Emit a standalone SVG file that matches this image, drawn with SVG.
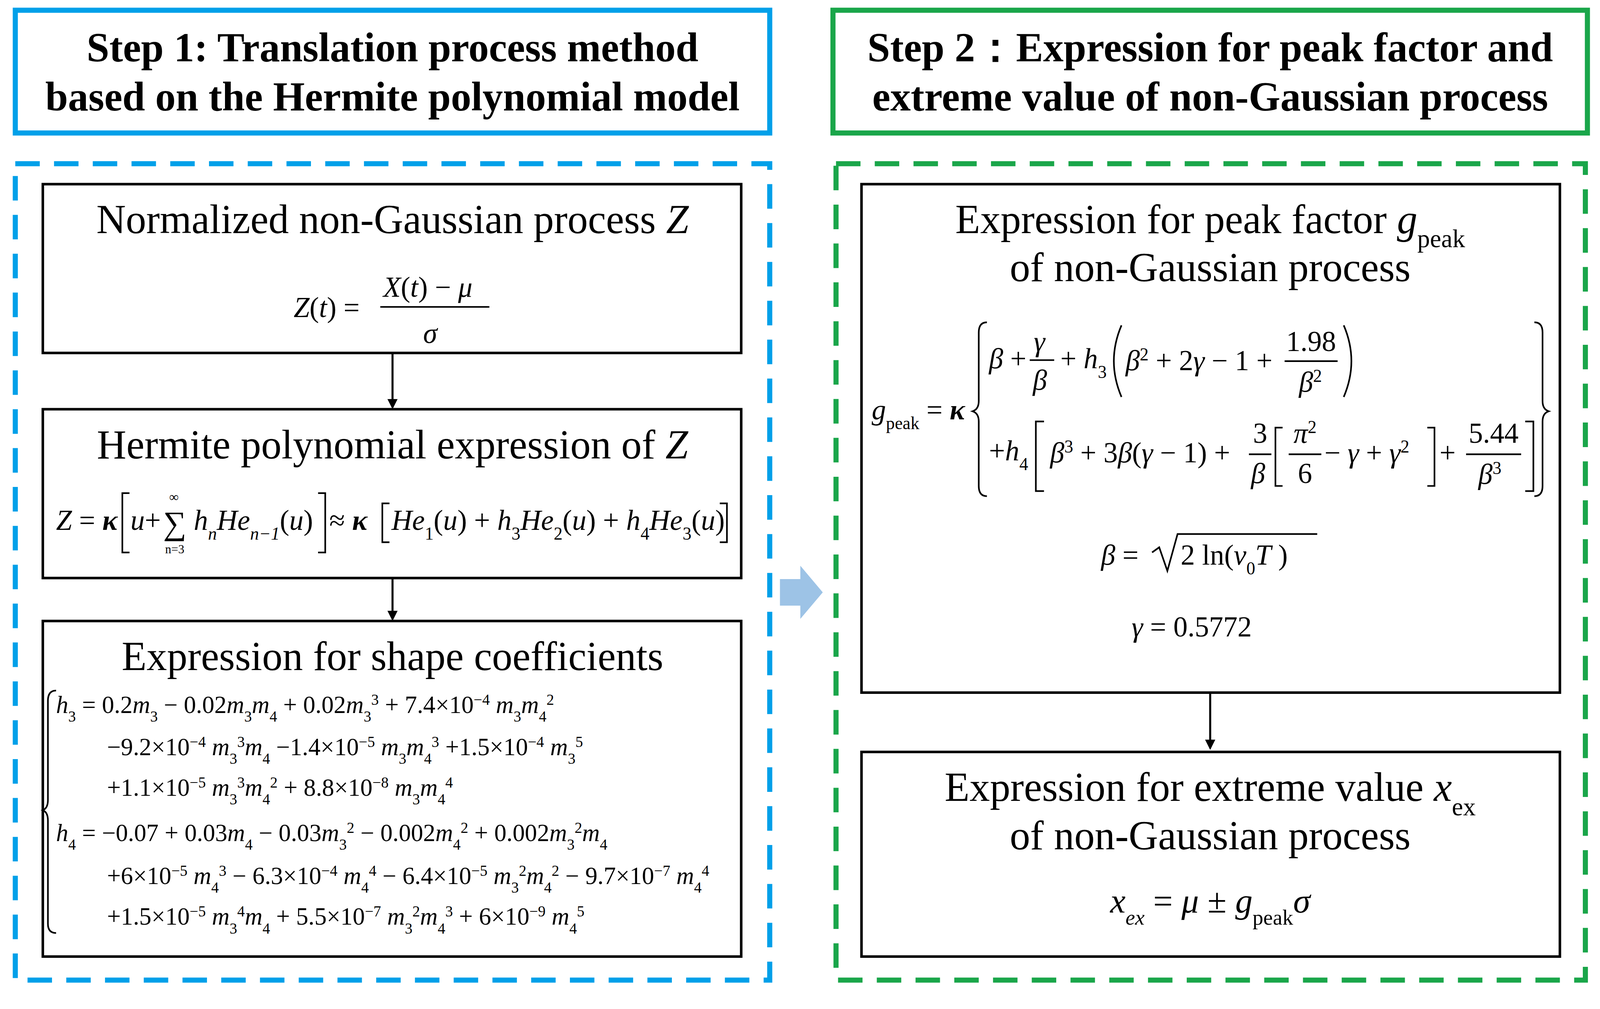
<svg xmlns="http://www.w3.org/2000/svg" width="4183" height="2584" viewBox="0 0 4183 2584">
<style>
text{font-family:"Liberation Serif","Times New Roman",serif;fill:#000}
.h{font-weight:bold;font-size:40px;text-anchor:middle}
.t{font-size:40px;text-anchor:middle}
.f{font-size:28px}
.s{font-size:24px}
.i{font-style:italic}
.b{baseline-shift:sub;font-size:62%}
.p{baseline-shift:super;font-size:62%}
.box{fill:#fff;stroke:#000;stroke-width:2.5}
.ln{fill:none;stroke:#000;stroke-width:1.6}
</style>
<defs><marker id="ah" markerWidth="10" markerHeight="10" refX="8" refY="5" orient="auto" markerUnits="userSpaceOnUse"><path d="M0,0 L10,5 L0,10 z" fill="#000"/></marker></defs>
<rect width="4183" height="2584" fill="#fff"/>
<g transform="scale(2.61,2.62)">
<g id="step1"><rect x="15" y="10" width="740" height="120" fill="#fff" stroke="#00a0e9" stroke-width="5"/>
<text class="h" x="385" y="60">Step 1: Translation process method</text>
<text class="h" x="385" y="108">based on the Hermite polynomial model</text></g>
<g id="step2"><rect x="817" y="10" width="740" height="120" fill="#fff" stroke="#1aa64a" stroke-width="5"/>
<text class="h" x="1187" y="60">Step 2：Expression for peak factor and</text>
<text class="h" x="1187" y="108">extreme value of non-Gaussian process</text></g>
<g id="group1"><rect x="15" y="160" width="740" height="798" fill="none" stroke="#00a0e9" stroke-width="5" stroke-dasharray="24,14"/></g>
<g id="group2"><rect x="820" y="160" width="735" height="798" fill="none" stroke="#1aa64a" stroke-width="5" stroke-dasharray="24,14"/></g>
<g id="bigarrow"><path d="M765,566 L785,566 L785,553 L807,579 L785,605 L785,592 L765,592 z" fill="#9dc3e6"/></g>

<g id="n1"><rect class="box" x="42" y="180" width="685" height="165"/>
<text class="t" x="385" y="228">Normalized non-Gaussian process <tspan class="i">Z</tspan></text>
<text class="f" x="288" y="310"><tspan class="i">Z</tspan>(<tspan class="i">t</tspan>) =</text>
<line class="ln" x1="373" y1="300" x2="480" y2="300"/>
<text class="f" x="376" y="290"><tspan class="i">X</tspan>(<tspan class="i">t</tspan>) − <tspan class="i">μ</tspan></text>
<text class="f i" x="415" y="335">σ</text></g>

<g id="n2"><rect class="box" x="42" y="400" width="685" height="165"/>
<text class="t" x="385" y="448">Hermite polynomial expression of <tspan class="i">Z</tspan></text>
<text class="f" x="55" y="518"><tspan class="i">Z</tspan> = <tspan font-weight="bold" class="i">κ</tspan></text>
<path class="ln" d="M127,482 L120,482 L120,540 L127,540 M312,482 L319,482 L319,540 L312,540"/>
<text class="f" x="128" y="518"><tspan class="i">u</tspan>+</text>
<text x="160" y="522" style="font-size:32px">∑</text>
<text x="166" y="490" style="font-size:13px">∞</text>
<text x="162" y="541" style="font-size:12px">n=3</text>
<text class="f" x="190" y="518"><tspan class="i">h<tspan class="b">n</tspan>He<tspan class="b">n−1</tspan></tspan>(<tspan class="i">u</tspan>)</text>
<text class="f" x="323" y="518">≈ <tspan class="i" font-weight="bold">κ</tspan></text>
<path class="ln" d="M382,492 L375,492 L375,530 L382,530 M706,492 L713,492 L713,530 L706,530"/>
<text class="f" x="384" y="518"><tspan class="i">He</tspan><tspan class="b">1</tspan>(<tspan class="i">u</tspan>) + <tspan class="i">h</tspan><tspan class="b">3</tspan><tspan class="i">He</tspan><tspan class="b">2</tspan>(<tspan class="i">u</tspan>) + <tspan class="i">h</tspan><tspan class="b">4</tspan><tspan class="i">He</tspan><tspan class="b">3</tspan>(<tspan class="i">u</tspan>)</text></g>

<g id="n3"><rect class="box" x="42" y="607" width="685" height="328"/>
<text class="t" x="385" y="655">Expression for shape coefficients</text>
<path class="ln" d="M55,675 Q47,675 47,685 L47,782 Q47,790 42,792 Q47,794 47,802 L47,903 Q47,912 55,912"/>
<text class="s" x="55" y="697"><tspan class="i">h</tspan><tspan class="b">3</tspan> = 0.2<tspan class="i">m</tspan><tspan class="b">3</tspan> − 0.02<tspan class="i">m</tspan><tspan class="b">3</tspan><tspan class="i">m</tspan><tspan class="b">4</tspan> + 0.02<tspan class="i">m</tspan><tspan class="b">3</tspan><tspan class="p">3</tspan> + 7.4×10<tspan class="p">−4</tspan> <tspan class="i">m</tspan><tspan class="b">3</tspan><tspan class="i">m</tspan><tspan class="b">4</tspan><tspan class="p">2</tspan></text>
<text class="s" x="105" y="738">−9.2×10<tspan class="p">−4</tspan> <tspan class="i">m</tspan><tspan class="b">3</tspan><tspan class="p">3</tspan><tspan class="i">m</tspan><tspan class="b">4</tspan> −1.4×10<tspan class="p">−5</tspan> <tspan class="i">m</tspan><tspan class="b">3</tspan><tspan class="i">m</tspan><tspan class="b">4</tspan><tspan class="p">3</tspan> +1.5×10<tspan class="p">−4</tspan> <tspan class="i">m</tspan><tspan class="b">3</tspan><tspan class="p">5</tspan></text>
<text class="s" x="105" y="778">+1.1×10<tspan class="p">−5</tspan> <tspan class="i">m</tspan><tspan class="b">3</tspan><tspan class="p">3</tspan><tspan class="i">m</tspan><tspan class="b">4</tspan><tspan class="p">2</tspan> + 8.8×10<tspan class="p">−8</tspan> <tspan class="i">m</tspan><tspan class="b">3</tspan><tspan class="i">m</tspan><tspan class="b">4</tspan><tspan class="p">4</tspan></text>
<text class="s" x="55" y="822"><tspan class="i">h</tspan><tspan class="b">4</tspan> = −0.07 + 0.03<tspan class="i">m</tspan><tspan class="b">4</tspan> − 0.03<tspan class="i">m</tspan><tspan class="b">3</tspan><tspan class="p">2</tspan> − 0.002<tspan class="i">m</tspan><tspan class="b">4</tspan><tspan class="p">2</tspan> + 0.002<tspan class="i">m</tspan><tspan class="b">3</tspan><tspan class="p">2</tspan><tspan class="i">m</tspan><tspan class="b">4</tspan></text>
<text class="s" x="105" y="864">+6×10<tspan class="p">−5</tspan> <tspan class="i">m</tspan><tspan class="b">4</tspan><tspan class="p">3</tspan> − 6.3×10<tspan class="p">−4</tspan> <tspan class="i">m</tspan><tspan class="b">4</tspan><tspan class="p">4</tspan> − 6.4×10<tspan class="p">−5</tspan> <tspan class="i">m</tspan><tspan class="b">3</tspan><tspan class="p">2</tspan><tspan class="i">m</tspan><tspan class="b">4</tspan><tspan class="p">2</tspan> − 9.7×10<tspan class="p">−7</tspan> <tspan class="i">m</tspan><tspan class="b">4</tspan><tspan class="p">4</tspan></text>
<text class="s" x="105" y="904">+1.5×10<tspan class="p">−5</tspan> <tspan class="i">m</tspan><tspan class="b">3</tspan><tspan class="p">4</tspan><tspan class="i">m</tspan><tspan class="b">4</tspan> + 5.5×10<tspan class="p">−7</tspan> <tspan class="i">m</tspan><tspan class="b">3</tspan><tspan class="p">2</tspan><tspan class="i">m</tspan><tspan class="b">4</tspan><tspan class="p">3</tspan> + 6×10<tspan class="p">−9</tspan> <tspan class="i">m</tspan><tspan class="b">4</tspan><tspan class="p">5</tspan></text></g>

<g id="r1"><rect class="box" x="845" y="180" width="685" height="497"/>
<text class="t" x="1187" y="228">Expression for peak factor <tspan class="i">g</tspan><tspan class="b">peak</tspan></text>
<text class="t" x="1187" y="275">of non-Gaussian process</text>
<text class="f" x="855" y="410"><tspan class="i">g</tspan><tspan class="b">peak</tspan> = <tspan class="i" font-weight="bold">κ</tspan></text>
<path class="ln" d="M968,315 Q960,315 960,325 L960,392 Q960,400 954,402 Q960,404 960,412 L960,475 Q960,485 968,485 M1505,315 Q1513,315 1513,325 L1513,392 Q1513,400 1519,402 Q1513,404 1513,412 L1513,475 Q1513,485 1505,485"/>
<text class="f" x="970" y="360"><tspan class="i">β</tspan> +</text>
<text class="f i" x="1014" y="343">γ</text><line class="ln" x1="1010" y1="352" x2="1034" y2="352"/><text class="f i" x="1013" y="381">β</text>
<text class="f" x="1040" y="360">+ <tspan class="i">h</tspan><tspan class="b">3</tspan></text>
<path class="ln" d="M1100,318 Q1085,353 1100,388 M1318,318 Q1333,353 1318,388"/>
<text class="f" x="1104" y="362"><tspan class="i">β</tspan><tspan class="p">2</tspan> + 2<tspan class="i">γ</tspan> − 1 +</text>
<text class="f" x="1286" y="343" text-anchor="middle">1.98</text><line class="ln" x1="1260" y1="353" x2="1312" y2="353"/><text class="f" x="1274" y="383"><tspan class="i">β</tspan><tspan class="p">2</tspan></text>
<text class="f" x="970" y="450">+<tspan class="i">h</tspan><tspan class="b">4</tspan></text>
<path class="ln" d="M1024,412 L1016,412 L1016,480 L1024,480 M1496,412 L1504,412 L1504,480 L1496,480"/>
<text class="f" x="1030" y="452"><tspan class="i">β</tspan><tspan class="p">3</tspan> + 3<tspan class="i">β</tspan>(<tspan class="i">γ</tspan> − 1) +</text>
<text class="f" x="1236" y="433" text-anchor="middle">3</text><line class="ln" x1="1225" y1="444" x2="1247" y2="444"/><text class="f i" x="1227" y="472">β</text>
<path class="ln" d="M1258,418 L1251,418 L1251,475 L1258,475 M1400,418 L1407,418 L1407,475 L1400,475"/>
<text class="f" x="1280" y="433" text-anchor="middle"><tspan class="i">π</tspan><tspan class="p">2</tspan></text><line class="ln" x1="1264" y1="444" x2="1296" y2="444"/><text class="f" x="1280" y="472" text-anchor="middle">6</text>
<text class="f" x="1299" y="452">− <tspan class="i">γ</tspan> + <tspan class="i">γ</tspan><tspan class="p">2</tspan></text>
<text class="f" x="1412" y="452">+</text>
<text class="f" x="1465" y="433" text-anchor="middle">5.44</text><line class="ln" x1="1438" y1="444" x2="1492" y2="444"/><text class="f" x="1450" y="473"><tspan class="i">β</tspan><tspan class="p">3</tspan></text>
<text class="f" x="1080" y="552"><tspan class="i">β</tspan> =</text>
<path class="ln" d="M1130,540 L1137,535 L1145,558 L1155,522 L1292,522"/>
<text class="f" x="1158" y="552">2 ln(<tspan class="i">ν</tspan><tspan class="b">0</tspan><tspan class="i">T</tspan> )</text>
<text class="f" x="1110" y="622"><tspan class="i">γ</tspan> =  0.5772</text></g>

<g id="r2"><rect class="box" x="845" y="735" width="685" height="200"/>
<text class="t" x="1187" y="783">Expression for extreme value <tspan class="i">x</tspan><tspan class="b">ex</tspan></text>
<text class="t" x="1187" y="830">of non-Gaussian process</text>
<text x="1187" y="892" text-anchor="middle" style="font-size:34px"><tspan class="i">x<tspan class="b">ex</tspan></tspan> = <tspan class="i">μ</tspan> ± <tspan class="i">g</tspan><tspan class="b">peak</tspan><tspan class="i">σ</tspan></text></g>

<g id="connectors" stroke="#000" stroke-width="2">
<line x1="385" y1="345" x2="385" y2="398" marker-end="url(#ah)"/>
<line x1="385" y1="565" x2="385" y2="605" marker-end="url(#ah)"/>
<line x1="1187" y1="677" x2="1187" y2="731" marker-end="url(#ah)"/>
</g>
</g>
</svg>
